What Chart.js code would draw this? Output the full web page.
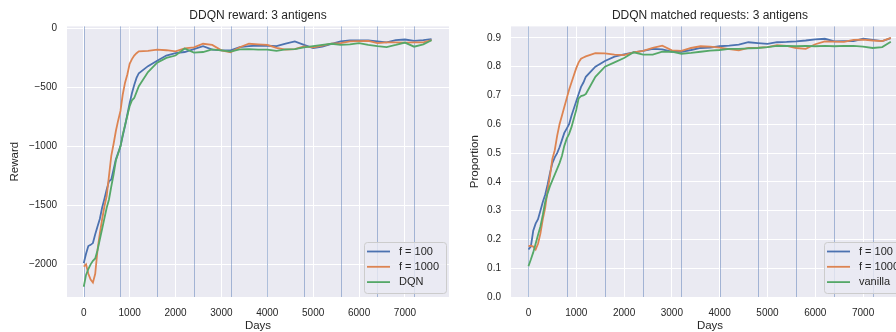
<!DOCTYPE html>
<html>
<head>
<meta charset="utf-8">
<script src="https://cdn.jsdelivr.net/npm/chart.js@4"></script>
<style>
html, body { margin:0; padding:0; background:#fff; overflow:hidden; width:896px; height:332px; }
.box { position:absolute; top:0; height:332px; }
#left { left:0; width:452px; }
#right { left:452px; width:460px; }
</style>
</head>
<body>
<div class="box" id="left"><canvas id="rewardChart"></canvas></div>
<div class="box" id="right"><canvas id="matchChart"></canvas></div>
<script>
// days on the x axis (shared by every series)
var days = [0,50,100,150,200,250,300,350,400,450,500,550,600,650,700,750,800,850,900,950,1000,1050,1100,1150,1200,
	1400,1600,1800,2000,2200,2400,2600,2800,3000,3200,3400,3600,3800,4000,4200,4400,4600,4800,5000,5200,5400,
	5600,5800,6000,6200,6400,6600,6800,7000,7200,7400,7580];

// vertical marker lines
var markerDays = [0,800,1600,2400,3200,4000,4800,5600,6400,7200];

// reward panel
var rewardF100 = [-1990,-1910,-1845,-1835,-1820,-1745,-1680,-1615,-1520,-1445,-1365,-1295,-1280,-1195,-1110,-1055,-1000,-910,-825,-730,-635,-550,-480,-420,-380,
	-320,-275,-230,-210,-200,-175,-150,-180,-186,-186,-158,-150,-145,-147,-150,-130,-110,-140,-166,-155,-132,
	-110,-102,-101,-102,-110,-118,-100,-94,-105,-100,-90];
var rewardF1000 = [-2020,-2000,-2080,-2130,-2155,-2080,-1880,-1740,-1620,-1510,-1420,-1250,-1080,-980,-870,-780,-700,-560,-460,-390,-300,-260,-230,-210,-195,
	-190,-180,-185,-195,-170,-160,-130,-140,-186,-203,-160,-130,-135,-140,-165,-180,-175,-152,-160,-145,-130,
	-125,-110,-108,-105,-125,-118,-118,-120,-118,-118,-100];
var rewardDQN = [-2190,-2090,-2040,-2000,-1970,-1950,-1880,-1790,-1700,-1610,-1520,-1450,-1340,-1240,-1120,-1060,-1000,-900,-820,-740,-660,-610,-590,-540,-490,
	-370,-290,-250,-230,-170,-205,-200,-178,-186,-197,-178,-175,-180,-180,-190,-178,-175,-160,-150,-140,-130,
	-140,-135,-125,-140,-150,-158,-140,-120,-155,-135,-100];
var rewardTicks = [-2000,-1500,-1000,-500,0];

// matched requests panel
var matchF100 = [0.165,0.175,0.23,0.255,0.27,0.30,0.33,0.355,0.39,0.43,0.465,0.485,0.50,0.52,0.545,0.57,0.585,0.60,0.63,0.655,0.68,0.705,0.73,0.745,0.765,
	0.80,0.82,0.835,0.843,0.85,0.855,0.862,0.86,0.852,0.852,0.858,0.865,0.866,0.871,0.873,0.877,0.885,0.882,0.879,0.885,0.886,
	0.888,0.891,0.895,0.897,0.888,0.889,0.889,0.897,0.893,0.889,0.899];
var matchF1000 = [0.177,0.178,0.175,0.165,0.185,0.22,0.27,0.31,0.37,0.42,0.48,0.51,0.56,0.60,0.63,0.66,0.69,0.72,0.745,0.77,0.795,0.815,0.828,0.832,0.836,
	0.847,0.846,0.842,0.84,0.85,0.855,0.865,0.873,0.857,0.855,0.865,0.871,0.87,0.866,0.861,0.857,0.865,0.866,0.868,0.875,0.872,
	0.865,0.862,0.878,0.888,0.887,0.886,0.893,0.894,0.891,0.889,0.90];
var matchVanilla = [0.107,0.13,0.155,0.185,0.215,0.245,0.285,0.33,0.36,0.385,0.405,0.425,0.445,0.465,0.49,0.525,0.55,0.567,0.59,0.62,0.65,0.69,0.698,0.70,0.705,
	0.765,0.80,0.815,0.83,0.85,0.842,0.842,0.852,0.852,0.845,0.848,0.852,0.856,0.858,0.862,0.862,0.864,0.865,0.868,0.872,0.872,
	0.871,0.872,0.871,0.872,0.871,0.872,0.872,0.870,0.865,0.868,0.887];
var matchTicks = [0,0.1,0.2,0.3,0.4,0.5,0.6,0.7,0.8,0.9];

var xTicks = [0,1000,2000,3000,4000,5000,6000,7000];

var BLUE = '#4c72b0', ORANGE = '#dd8452', GREEN = '#55a868';
var FONT = '"Liberation Sans", Arial, sans-serif';
var TEXT = '#262626';

function points(ys) {
	return days.map(function(d, i){ return {x: d, y: ys[i]}; });
}

var panelBg = {
	id: 'panelBg',
	beforeDraw: function(chart) {
		var a = chart.chartArea, ctx = chart.ctx;
		ctx.save();
		ctx.fillStyle = '#eaeaf2';
		ctx.fillRect(a.left, a.top, a.right - a.left, a.bottom - a.top);
		ctx.restore();
	},
	beforeDatasetsDraw: function(chart) {
		var a = chart.chartArea, ctx = chart.ctx, xs = chart.scales.x;
		ctx.save();
		ctx.strokeStyle = 'rgba(76,114,176,0.45)';
		ctx.lineWidth = 1;
		markerDays.forEach(function(d){
			var px = Math.round(xs.getPixelForValue(d)) + 0.5;
			ctx.beginPath();
			ctx.moveTo(px, a.top);
			ctx.lineTo(px, a.bottom);
			ctx.stroke();
		});
		ctx.restore();
	},
	afterDraw: function(chart) {
		// legend box in the lower right corner
		var a = chart.chartArea, ctx = chart.ctx;
		var w = 82, h = 51;
		var left = a.right - 3 - w, top = a.bottom - 4 - h;
		ctx.save();
		ctx.fillStyle = 'rgba(234,234,242,0.8)';
		ctx.strokeStyle = '#cccccc';
		ctx.lineWidth = 1;
		ctx.beginPath();
		ctx.roundRect(left + 0.5, top + 0.5, w, h, 3);
		ctx.fill();
		ctx.stroke();
		ctx.font = '11px ' + FONT;
		ctx.textBaseline = 'middle';
		ctx.textAlign = 'left';
		chart.data.datasets.forEach(function(ds, i){
			var y = top + 9.5 + i * 15.3;
			ctx.strokeStyle = ds.borderColor;
			ctx.lineWidth = 1.8;
			ctx.beginPath();
			ctx.moveTo(left + 3, y);
			ctx.lineTo(left + 26, y);
			ctx.stroke();
			ctx.fillStyle = TEXT;
			ctx.fillText(ds.label, left + 35, y);
		});
		ctx.restore();
	}
};

function makeChart(id, title, yLabel, labels, series, yMin, yMax, yTicks, yFmt, yWidth, yTitlePad) {
	var colors = [BLUE, ORANGE, GREEN];
	var ctx = document.getElementById(id).getContext('2d');
	return new Chart(ctx, {
		type: 'line',
		data: {
			datasets: series.map(function(s, i){
				return {
					label: labels[i],
					data: points(s),
					borderColor: colors[i],
					backgroundColor: colors[i],
					borderWidth: 1.8,
					pointRadius: 0,
					tension: 0,
					order: 2 - i
				};
			})
		},
		options: {
			responsive: true,
			maintainAspectRatio: false,
			animation: false,
			events: [],
			layout: { padding: { left: 0, right: 3, top: 0, bottom: 0 } },
			plugins: {
				legend: { display: false },
				tooltip: { enabled: false },
				title: {
					display: true,
					text: title,
					fullSize: false,
					color: TEXT,
					font: { family: FONT, size: 12, weight: 'normal', lineHeight: 1.2 },
					padding: { top: 8, bottom: 4 }
				}
			},
			scales: {
				x: {
					type: 'linear',
					min: -365,
					max: 7960,
					afterFit: function(scale){ scale.height = 35; },
					afterBuildTicks: function(scale){ scale.ticks = xTicks.map(function(v){ return {value: v}; }); },
					grid: { color: '#ffffff', lineWidth: 1, drawTicks: false },
					border: { display: false },
					ticks: {
						color: TEXT, padding: 10, maxRotation: 0,
						font: { family: FONT, size: 10 },
						callback: function(v){ return String(v); }
					},
					title: {
						display: true, text: 'Days', color: TEXT, padding: 0,
						font: { family: FONT, size: 11.5, lineHeight: 1 }
					}
				},
				y: {
					type: 'linear',
					min: yMin,
					max: yMax,
					afterFit: function(scale){ scale.width = yWidth; },
					afterBuildTicks: function(scale){ scale.ticks = yTicks.map(function(v){ return {value: v}; }); },
					grid: { color: '#ffffff', lineWidth: 1, drawTicks: false },
					border: { display: false },
					ticks: {
						color: TEXT, padding: 10,
						font: { family: FONT, size: 10 },
						callback: yFmt
					},
					title: {
						display: true, text: yLabel, color: TEXT,
						padding: { top: yTitlePad, bottom: 0 },
						font: { family: FONT, size: 11.5, lineHeight: 1.2 }
					}
				}
			}
		},
		plugins: [panelBg]
	});
}

makeChart('rewardChart', 'DDQN reward: 3 antigens', 'Reward',
	['f = 100', 'f = 1000', 'DQN'],
	[rewardF100, rewardF1000, rewardDQN],
	-2277, 17, rewardTicks,
	function(v){ return String(v).replace('-', '\u2212'); },
	67, 8);

makeChart('matchChart', 'DDQN matched requests: 3 antigens', 'Proportion',
	['f = 100', 'f = 1000', 'vanilla'],
	[matchF100, matchF1000, matchVanilla],
	0, 0.94, matchTicks,
	function(v){ return v.toFixed(1); },
	59, 16);
</script>
</body>
</html>
